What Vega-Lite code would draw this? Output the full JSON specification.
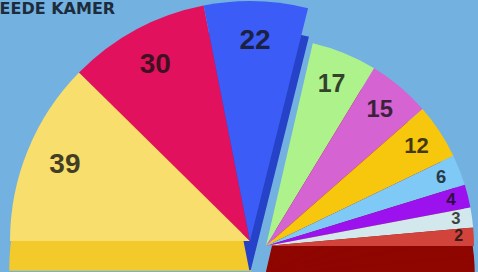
{
  "$schema": "https://vega.github.io/schema/vega-lite/v6.json",
  "width": 500,
  "height": 446,
  "autosize": {"type": "none"},
  "padding": {"left": 0, "top": 18, "right": 0, "bottom": 0},
  "background": "#73b1e1",
  "config": {"view": {"stroke": null}},
  "title": {
    "text": "TWEEDE KAMER",
    "anchor": "start",
    "frame": "group",
    "dx": -29,
    "dy": 29,
    "offset": 0,
    "baseline": "alphabetic",
    "font": "DejaVu Sans",
    "fontSize": 16,
    "fontWeight": "bold",
    "color": "#1c2c3c"
  },
  "data": {
    "values": [
      {"idx": 1, "seats": 39, "block": "L"},
      {"idx": 2, "seats": 30, "block": "L"},
      {"idx": 3, "seats": 22, "block": "L"},
      {"idx": 4, "seats": 17, "block": "R"},
      {"idx": 5, "seats": 15, "block": "R"},
      {"idx": 6, "seats": 12, "block": "R"},
      {"idx": 7, "seats": 6, "block": "R"},
      {"idx": 8, "seats": 4, "block": "R"},
      {"idx": 9, "seats": 3, "block": "R"},
      {"idx": 10, "seats": 2, "block": "R"}
    ]
  },
  "layer": [
    {
      "transform": [{"filter": "datum.block == 'L'"}],
      "encoding": {
        "theta": {"field": "seats", "type": "quantitative", "stack": true, "scale": {"domain": [0, 91], "range": [-1.5708, 0.2443]}},
        "order": {"field": "idx", "type": "quantitative"},
        "detail": {"field": "idx", "type": "nominal"}
      },
      "layer": [
        {
          "mark": {"type": "arc", "radius": 240, "yOffset": 29, "strokeWidth": 1.5},
          "encoding": {
            "color": {"condition": {"test": "datum.seats == 22", "value": "#2642c9"}, "value": "#f3ca2b"},
            "stroke": {"condition": {"test": "datum.seats == 22", "value": "#2642c9"}, "value": "#f3ca2b"}
          }
        },
        {
          "mark": {"type": "arc", "radius": 240},
          "encoding": {"color": {"field": "idx", "type": "nominal", "legend": null, "scale": {"domain": [1, 2, 3, 4, 5, 6, 7, 8, 9, 10], "range": ["#f7de6d", "#e1115e", "#3b5cf6", "#aef28c", "#d563d2", "#f7c70e", "#7ec9f6", "#9c12ef", "#d2e8ec", "#d2433b"]}}}
        },
        {
          "mark": {"type": "text", "radius": 200, "fontSize": 28, "font": "Liberation Sans", "fontWeight": "bold", "fill": "#111111", "opacity": 0.78},
          "encoding": {"text": {"field": "seats", "type": "quantitative"}}
        }
      ]
    },
    {
      "transform": [{"filter": "datum.block == 'R'"}],
      "encoding": {
        "theta": {"field": "seats", "type": "quantitative", "stack": true, "scale": {"type": "pow", "exponent": 0.8, "domain": [0, 59], "range": [1.5708, 0.2269]}},
        "order": {"field": "idx", "type": "quantitative", "sort": "descending"},
        "detail": {"field": "idx", "type": "nominal"}
      },
      "layer": [
        {
          "mark": {"type": "arc", "radius": 208, "xOffset": 16, "yOffset": 34, "color": "#8f0500", "stroke": "#8f0500", "strokeWidth": 1.5}
        },
        {
          "mark": {"type": "arc", "radius": 208, "xOffset": 16, "yOffset": 5},
          "encoding": {"color": {"field": "idx", "type": "nominal", "legend": null, "scale": {"domain": [1, 2, 3, 4, 5, 6, 7, 8, 9, 10], "range": ["#f7de6d", "#e1115e", "#3b5cf6", "#aef28c", "#d563d2", "#f7c70e", "#7ec9f6", "#9c12ef", "#d2e8ec", "#d2433b"]}}}
        },
        {
          "mark": {"type": "text", "xOffset": 16, "yOffset": 5, "font": "Liberation Sans", "fontWeight": "bold", "fill": "#111111", "opacity": 0.78},
          "encoding": {
            "text": {"field": "seats", "type": "quantitative"},
            "radius": {"field": "seats", "type": "quantitative", "scale": {"type": "linear", "zero": false, "domain": [2, 17], "range": [193, 175]}},
            "size": {"field": "seats", "type": "quantitative", "legend": null, "scale": {"zero": false, "domain": [2, 17], "range": [16, 25]}}
          }
        }
      ]
    }
  ],
  "resolve": {"scale": {"theta": "independent", "radius": "independent", "size": "independent"}}
}
